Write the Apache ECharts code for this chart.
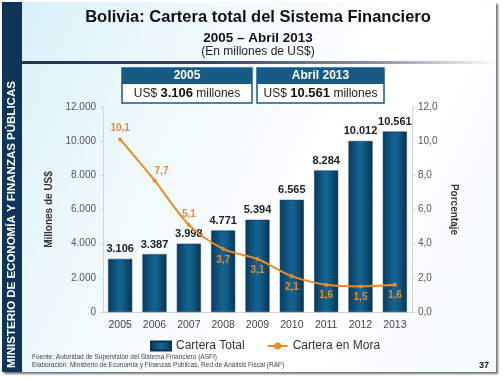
<!DOCTYPE html>
<html>
<head>
<meta charset="utf-8">
<script src="https://cdn.jsdelivr.net/npm/echarts@6/dist/echarts.min.js"></script>
<style>
html,body{margin:0;padding:0;width:504px;height:379px;background:#fff;overflow:hidden;}
#slide{position:absolute;left:2px;top:2px;width:494px;height:370px;
background:linear-gradient(115deg,#d6f0f8 0%,#e9f7fb 22%,#f7fcfe 45%,#ffffff 65%,#f3fafd 100%);
box-shadow:2px 2px 2px rgba(0,0,0,0.55);}
#strip{position:absolute;left:2px;top:2px;width:20px;height:370px;background:#0f3658;}
#hline{position:absolute;left:22px;top:61px;width:474px;height:3px;
background:linear-gradient(90deg,#26324a 0%,#3a4662 40%,#8a93a6 75%,rgba(220,225,235,0) 100%);}
#chart{position:absolute;left:0;top:0;width:504px;height:379px;}
</style>
</head>
<body>
<div id="slide"></div>
<div id="strip"></div>
<div id="hline"></div>
<div id="chart"></div>
<script>
var years = ['2005','2006','2007','2008','2009','2010','2011','2012','2013'];
var carteraTotal = [3106, 3387, 3998, 4771, 5394, 6565, 8284, 10012, 10561];
var carteraMora = [10.1, 7.7, 5.1, 3.7, 3.1, 2.1, 1.6, 1.5, 1.6];
var moraLabelPos = ['top','top','top','bottom','bottom','bottom','bottom','bottom','bottom'];

function fmtThousands(v){ return String(v).replace(/\B(?=(\d{3})+(?!\d))/g,'.'); }
function fmtDec(v){ return Number(v).toFixed(1).replace('.',','); }

var chart = echarts.init(document.getElementById('chart'), null, {renderer:'canvas'});
var FONT = 'Liberation Sans, Arial, sans-serif';

var moraData = carteraMora.map(function(v,i){
  var item = {value:v, label:{position:moraLabelPos[i]}};
  if(i===1){ item.label.offset=[7,2]; }
  return item;
});

var option = {
  backgroundColor:'transparent',
  textStyle:{fontFamily:FONT},
  animation:false,
  grid:{left:103,right:92,top:107,bottom:67},
  legend:{
    left:145, top:335, itemGap:22, itemWidth:20, itemHeight:9,
    textStyle:{fontSize:12,color:'#333',fontFamily:FONT},
    data:[{name:'Cartera Total',icon:'rect'},{name:'Cartera en Mora'}]
  },
  xAxis:{
    type:'category', data:years,
    axisLine:{lineStyle:{color:'#cfd5da'}},
    axisTick:{show:false},
    axisLabel:{color:'#444',fontSize:10.5,margin:8,fontFamily:FONT}
  },
  yAxis:[{
    type:'value', min:0, max:12000, interval:2000,
    name:'Millones de US$', nameLocation:'middle', nameGap:45, nameRotate:90,
    nameTextStyle:{fontWeight:'bold',fontSize:10,color:'#333',fontFamily:FONT},
    axisLine:{show:true,lineStyle:{color:'#cfd5da'}},
    axisTick:{show:true,length:3,lineStyle:{color:'#cfd5da'}},
    splitLine:{show:false},
    axisLabel:{color:'#555',fontSize:10,margin:7,formatter:fmtThousands,fontFamily:FONT}
  },{
    type:'value', min:0, max:12, interval:2,
    name:'Porcentaje', nameLocation:'middle', nameGap:35, nameRotate:-90,
    nameTextStyle:{fontWeight:'bold',fontSize:10,color:'#333',fontFamily:FONT},
    axisLine:{show:true,lineStyle:{color:'#cfd5da'}},
    axisTick:{show:true,length:3,lineStyle:{color:'#cfd5da'}},
    splitLine:{show:false},
    axisLabel:{color:'#555',fontSize:10,margin:6,formatter:fmtDec,fontFamily:FONT}
  }],
  series:[{
    name:'Cartera Total', type:'bar', data:carteraTotal, barWidth:24, yAxisIndex:0,
    itemStyle:{color:new echarts.graphic.LinearGradient(0,0,1,0,[
      {offset:0,color:'#0a3a5e'},{offset:0.45,color:'#14628f'},{offset:0.6,color:'#12608c'},{offset:1,color:'#083452'}]),
      borderColor:'#0b3350',borderWidth:0.5},
    label:{show:true,position:'top',distance:4,formatter:function(p){return fmtThousands(p.value);},
      fontWeight:'bold',fontSize:11,color:'#222',fontFamily:FONT},
    z:2
  },{
    name:'Cartera en Mora', type:'line', data:moraData, yAxisIndex:1, smooth:0.3,
    symbol:'circle', symbolSize:4,
    lineStyle:{color:'#ec8a25',width:2},
    itemStyle:{color:'#ec8a25'},
    label:{show:true,distance:4,formatter:function(p){return fmtDec(p.value);},
      fontWeight:'bold',fontSize:10,color:'#ea8a2a',fontFamily:FONT},
    z:5
  }],
  graphic:[
    {type:'text',x:258,y:9,style:{text:'Bolivia: Cartera total del Sistema Financiero',
      font:'bold 16.5px '+FONT,fill:'#111',align:'center'}},
    {type:'text',x:258,y:31,style:{text:'2005 – Abril 2013',font:'bold 13.5px '+FONT,fill:'#111',align:'center'}},
    {type:'text',x:258,y:46,style:{text:'(En millones de US$)',font:'12px '+FONT,fill:'#222',align:'center'}},
    // Box 1
    {type:'rect',shape:{x:122,y:68,width:130,height:35},style:{fill:'#ffffff',stroke:'#1a5a84',lineWidth:1.5}},
    {type:'rect',shape:{x:122,y:68,width:130,height:16},style:{fill:'#175a86'}},
    {type:'text',x:187,y:70,style:{text:'2005',font:'bold 12px '+FONT,fill:'#fff',align:'center'}},
    {type:'text',x:187,y:87,style:{text:'{n|US$ }{b|3.106}{n| millones}',align:'center',
      rich:{n:{font:'12px '+FONT,fill:'#222'},b:{font:'bold 13px '+FONT,fill:'#111'}}}},
    // Box 2
    {type:'rect',shape:{x:257,y:68,width:127,height:35},style:{fill:'#ffffff',stroke:'#1a5a84',lineWidth:1.5}},
    {type:'rect',shape:{x:257,y:68,width:127,height:16},style:{fill:'#175a86'}},
    {type:'text',x:320.5,y:70,style:{text:'Abril 2013',font:'bold 12px '+FONT,fill:'#fff',align:'center'}},
    {type:'text',x:320.5,y:87,style:{text:'{n|US$ }{b|10.561}{n| millones}',align:'center',
      rich:{n:{font:'12px '+FONT,fill:'#222'},b:{font:'bold 13px '+FONT,fill:'#111'}}}},
    // side strip text
    {type:'text',x:6,y:368,rotation:Math.PI/2,style:{text:'MINISTERIO DE ECONOMÍA Y FINANZAS PÚBLICAS',
      font:'bold 11.5px '+FONT,fill:'#fff',align:'left',verticalAlign:'top'}},
    // footnotes
    {type:'text',x:32,y:354,style:{text:'Fuente: Autoridad de Supervisión del Sistema Financiero (ASFI)',font:'6.5px '+FONT,fill:'#444'}},
    {type:'text',x:32,y:362,style:{text:'Elaboración: Ministerio de Economía y Finanzas Públicas, Red de Análisis Fiscal (RAF)',font:'6.5px '+FONT,fill:'#444'}},
    {type:'text',x:479,y:361,style:{text:'37',font:'bold 9px '+FONT,fill:'#111'}}
  ]
};
chart.setOption(option);
</script>
</body>
</html>
